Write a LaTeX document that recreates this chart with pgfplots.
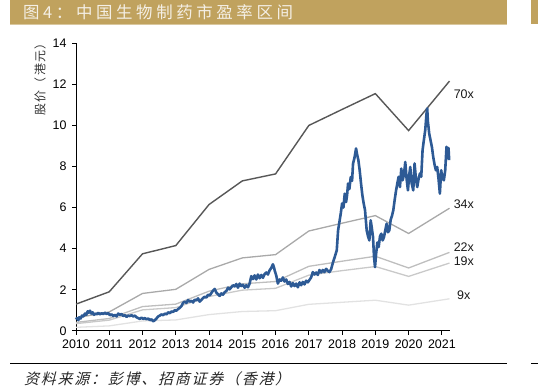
\documentclass[border=0pt]{standalone}
\usepackage{fontspec}
\setmainfont{Liberation Sans}
\newfontfamily\cjk[LetterSpace=10]{Noto Sans CJK SC}
\newfontfamily\cjktitle[LetterSpace=22]{Noto Sans CJK SC}
\newfontfamily\cjksrc[FakeSlant=0.25,LetterSpace=12]{Noto Sans CJK SC}
\usepackage{pgfplots}
\pgfplotsset{compat=1.18}
\definecolor{titlegold}{HTML}{C0A25E}
\definecolor{titletext}{HTML}{F4EFE5}
\definecolor{pxblue}{HTML}{2D5A95}
\definecolor{g70}{HTML}{575757}
\definecolor{g34}{HTML}{A9A9A9}
\definecolor{g22}{HTML}{BEBEBE}
\definecolor{g19}{HTML}{C9C9C9}
\definecolor{g9}{HTML}{E2E2E2}
\pgfplotstableread{
x pe70 pe34 pe22 pe19 pe9
2010 1.30 0.63 0.41 0.35 0.17
2011 1.90 0.92 0.60 0.52 0.24
2012 3.75 1.82 1.18 1.02 0.48
2013 4.15 2.02 1.30 1.13 0.53
2014 6.15 2.99 1.93 1.67 0.79
2015 7.30 3.55 2.29 1.98 0.94
2016 7.64 3.71 2.40 2.07 0.98
2017 10.00 4.86 3.14 2.71 1.29
2018 10.78 5.24 3.39 2.93 1.39
2019 11.55 5.61 3.63 3.13 1.49
2020 9.75 4.74 3.06 2.65 1.25
2021.23 12.16 5.97 3.82 3.30 1.56
}\bands
\pgfplotstableread{
x price
2010.00 0.55
2010.03 0.62
2010.07 0.52
2010.10 0.66
2010.14 0.60
2010.18 0.74
2010.22 0.70
2010.27 0.84
2010.31 0.78
2010.35 0.95
2010.38 0.88
2010.42 0.98
2010.46 0.84
2010.50 0.90
2010.54 0.78
2010.58 0.84
2010.62 0.80
2010.67 0.88
2010.72 0.80
2010.77 0.86
2010.82 0.82
2010.87 0.88
2010.92 0.82
2010.97 0.86
2011.02 0.76
2011.07 0.80
2011.12 0.72
2011.17 0.78
2011.22 0.70
2011.27 0.84
2011.32 0.78
2011.37 0.82
2011.42 0.72
2011.47 0.76
2011.52 0.68
2011.57 0.74
2011.62 0.72
2011.67 0.76
2011.72 0.70
2011.77 0.74
2011.82 0.66
2011.87 0.62
2011.92 0.58
2011.97 0.64
2012.02 0.58
2012.07 0.62
2012.12 0.56
2012.17 0.60
2012.22 0.52
2012.27 0.56
2012.32 0.46
2012.37 0.52
2012.42 0.60
2012.47 0.70
2012.52 0.74
2012.57 0.80
2012.62 0.76
2012.67 0.84
2012.72 0.80
2012.77 0.90
2012.82 0.86
2012.87 0.94
2012.92 0.92
2012.97 1.00
2013.02 0.98
2013.07 1.06
2013.12 1.12
2013.17 1.20
2013.22 1.36
2013.27 1.42
2013.32 1.36
2013.37 1.50
2013.42 1.42
2013.47 1.46
2013.52 1.38
2013.57 1.52
2013.62 1.48
2013.67 1.58
2013.72 1.42
2013.77 1.50
2013.82 1.60
2013.87 1.66
2013.92 1.62
2013.97 1.76
2014.02 1.72
2014.07 1.84
2014.12 1.96
2014.17 2.04
2014.22 1.86
2014.27 1.78
2014.32 1.70
2014.37 1.82
2014.42 1.76
2014.47 1.88
2014.52 1.94
2014.57 2.10
2014.62 2.02
2014.67 2.12
2014.72 2.22
2014.77 2.16
2014.82 2.28
2014.87 2.10
2014.92 2.30
2014.97 2.18
2015.02 2.24
2015.07 2.10
2015.12 2.22
2015.17 2.12
2015.22 2.30
2015.27 2.66
2015.32 2.52
2015.37 2.70
2015.42 2.50
2015.47 2.74
2015.52 2.56
2015.57 2.72
2015.62 2.58
2015.67 2.76
2015.72 2.84
2015.77 2.74
2015.82 2.94
2015.87 3.06
2015.92 3.24
2015.95 3.10
2015.98 2.90
2016.02 2.70
2016.07 2.30
2016.12 2.50
2016.17 2.44
2016.22 2.60
2016.27 2.40
2016.32 2.50
2016.37 2.28
2016.42 2.38
2016.47 2.16
2016.52 2.32
2016.57 2.18
2016.62 2.30
2016.67 2.12
2016.72 2.36
2016.77 2.22
2016.82 2.38
2016.87 2.26
2016.92 2.44
2016.97 2.36
2017.02 2.48
2017.07 2.60
2017.12 2.86
2017.17 2.74
2017.22 2.84
2017.27 2.72
2017.32 2.96
2017.37 2.84
2017.42 2.96
2017.47 2.86
2017.52 3.02
2017.57 2.92
2017.62 2.86
2017.67 3.00
2017.73 3.35
2017.78 3.60
2017.84 3.92
2017.88 4.89
2017.92 5.30
2017.96 5.71
2018.00 6.20
2018.04 6.00
2018.08 6.68
2018.12 6.27
2018.15 6.60
2018.18 7.17
2018.22 6.90
2018.26 7.49
2018.30 7.30
2018.33 8.15
2018.37 8.40
2018.42 8.88
2018.45 8.60
2018.49 8.31
2018.53 7.80
2018.57 7.17
2018.61 6.60
2018.65 6.20
2018.69 5.87
2018.74 4.89
2018.78 4.60
2018.82 4.40
2018.86 5.38
2018.89 5.05
2018.93 4.57
2018.96 3.60
2018.99 3.10
2019.02 3.70
2019.06 4.30
2019.10 4.08
2019.14 4.60
2019.18 4.73
2019.22 4.40
2019.26 4.57
2019.30 4.90
2019.34 5.22
2019.38 4.80
2019.42 4.89
2019.46 5.40
2019.50 5.60
2019.54 5.87
2019.58 6.36
2019.62 6.80
2019.66 7.17
2019.70 7.50
2019.74 7.00
2019.78 7.90
2019.82 7.33
2019.86 7.60
2019.90 8.22
2019.94 7.40
2019.98 6.84
2020.02 7.60
2020.05 7.98
2020.09 7.20
2020.14 6.84
2020.18 8.15
2020.22 7.40
2020.26 7.00
2020.30 7.40
2020.34 7.66
2020.38 7.50
2020.42 8.80
2020.46 9.30
2020.50 9.77
2020.54 10.60
2020.56 10.83
2020.58 10.20
2020.62 9.60
2020.66 9.28
2020.70 8.96
2020.74 8.47
2020.78 8.10
2020.82 7.82
2020.86 7.98
2020.90 7.40
2020.94 6.68
2020.98 7.82
2021.02 7.40
2021.06 7.33
2021.10 7.80
2021.14 8.96
2021.18 8.40
2021.20 8.90
2021.22 8.31
}\price
\begin{document}
\begin{tikzpicture}[x=1bp,y=1bp]
\path[use as bounding box] (0,0) rectangle (538,-387);
% title bar
\fill[titlegold] (10,0) rectangle (507,-24);
\fill[titlegold] (531,0) rectangle (538,-24);
\draw[color=titlegold!60!white, line width=0.8] (10,-24) -- (507,-24);
\node[anchor=west, inner sep=0, text=titletext, font=\cjktitle\fontsize{16.5}{17}\selectfont] at (23,-12) {图4：中国生物制药市盈率区间};
% footer
\draw[black, line width=0.9] (10,-363.3) -- (507,-363.3);
\draw[black, line width=0.9] (531,-363.3) -- (538,-363.3);
\node[anchor=west, inner sep=0, text=black!85, font=\cjksrc\fontsize{15}{15}\selectfont] at (24,-379) {资料来源：彭博、招商证券（香港）};
% y label
\node[rotate=90, inner sep=0, text=black!80, font=\cjk\fontsize{12}{12}\selectfont] at (40,-76.5) {股价（港元）};
\begin{axis}[
  at={(76bp,-330.8bp)}, anchor=south west,
  scale only axis, width=373.5bp, height=287.5bp,
  xmin=2010, xmax=2021.23, ymin=0, ymax=14,
  axis x line*=bottom, axis y line*=left,
  axis line style={-, black, line width=0.8bp},
  xtick={2010,2011,2012,2013,2014,2015,2016,2017,2018,2019,2020,2021},
  xticklabels={2010,2011,2012,2013,2014,2015,2016,2017,2018,2019,2020,2021},
  ytick={0,2,4,6,8,10,12,14},
  tick align=outside, major tick length=4bp,
  tick style={black, line width=0.8bp},
  tick label style={font=\fontsize{12.5}{13}\selectfont, text=black},
  yticklabel style={xshift=-2bp},
  xticklabel style={yshift=-1bp},
  /pgf/number format/assume math mode=true,
  clip=false,
]
\addplot[g9, line width=1.3bp] table[x=x, y=pe9] {\bands};
\addplot[g19, line width=1.3bp] table[x=x, y=pe19] {\bands};
\addplot[g22, line width=1.3bp] table[x=x, y=pe22] {\bands};
\addplot[g34, line width=1.3bp] table[x=x, y=pe34] {\bands};
\addplot[g70, line width=1.4bp] table[x=x, y=pe70] {\bands};
\addplot[pxblue, line width=2.6bp, line join=round] table[x=x, y=price] {\price};
\node[font=\fontsize{12.5}{13}\selectfont, text=black!90] at (axis cs:2021.66,11.51) {70x};
\node[font=\fontsize{12.5}{13}\selectfont, text=black!90] at (axis cs:2021.66,6.17) {34x};
\node[font=\fontsize{12.5}{13}\selectfont, text=black!90] at (axis cs:2021.66,4.08) {22x};
\node[font=\fontsize{12.5}{13}\selectfont, text=black!90] at (axis cs:2021.66,3.39) {19x};
\node[font=\fontsize{12.5}{13}\selectfont, text=black!90] at (axis cs:2021.66,1.72) {9x};
\end{axis}
\end{tikzpicture}
\end{document}
